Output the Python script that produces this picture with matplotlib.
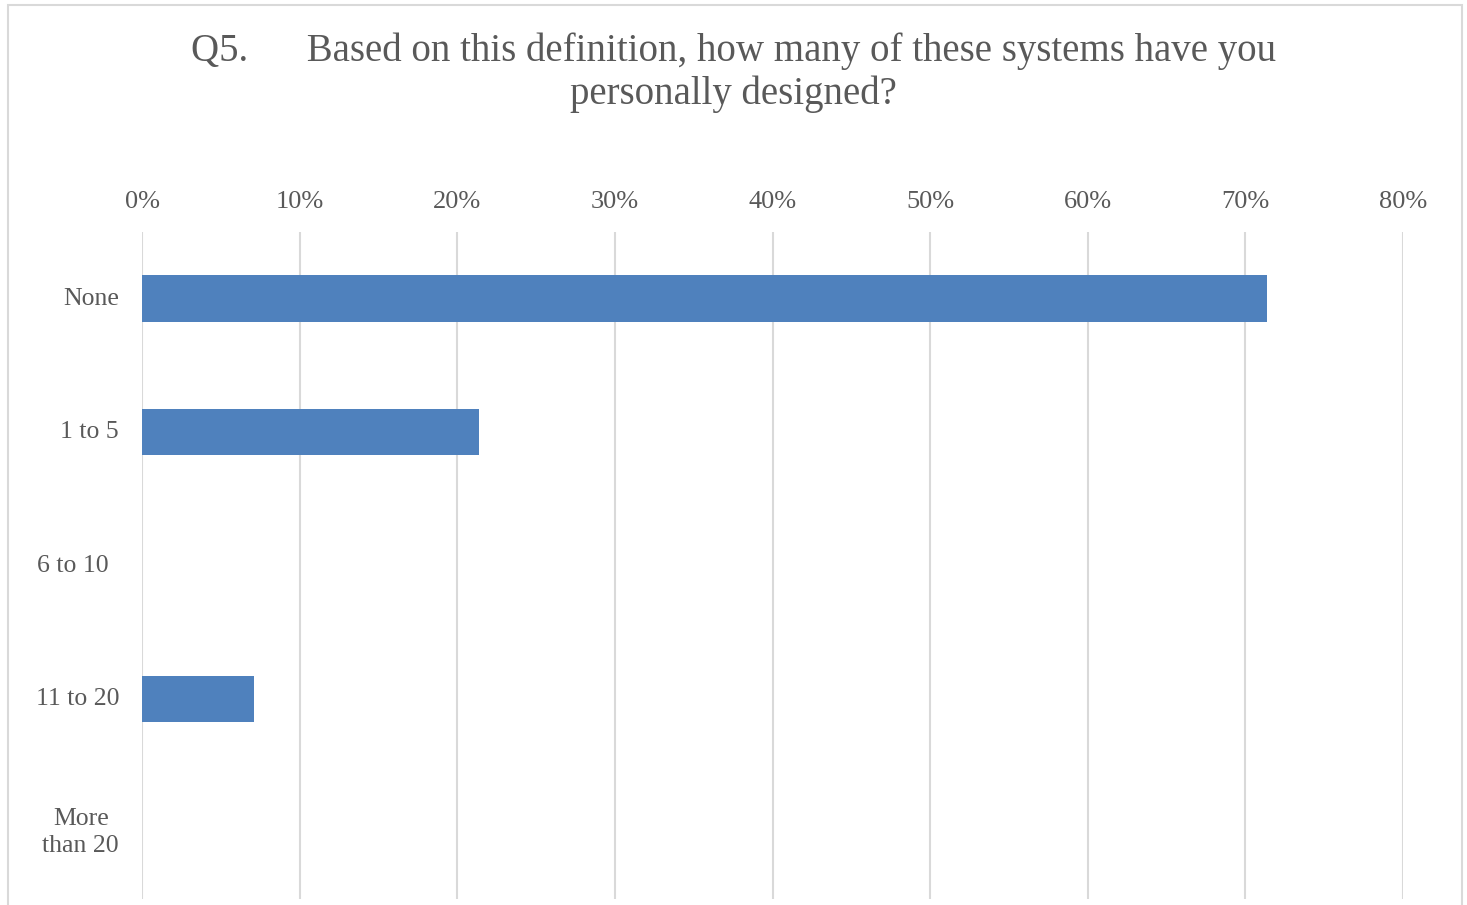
import matplotlib
matplotlib.use("Agg")
import matplotlib.pyplot as plt
from matplotlib.patches import Rectangle
import matplotlib.transforms as mtransforms

categories = ["None", "1 to 5", "6 to 10", "11 to 20", "More\nthan 20"]
values = [71.4, 21.4, 0.0, 7.1, 0.0]
xticks = [0, 10, 20, 30, 40, 50, 60, 70, 80]
xtick_labels = [f"{t}%" for t in xticks]
title = "Q5.      Based on this definition, how many of these systems have you\npersonally designed?"

FONT = "Liberation Serif"
TXT = "#595959"
GRID = "#D9D9D9"
BAR = "#4F81BD"

fig = plt.figure(figsize=(14.67, 9.05), dpi=100)
fig.patches.append(Rectangle((8/1467, -0.01), (1462-8)/1467, 1 - 5/905 + 0.01,
                             transform=fig.transFigure, fill=False,
                             edgecolor=GRID, linewidth=1.5))

ax = fig.add_axes([142/1467, 1 - 899/905, (1403-142)/1467, (899-232)/905])
y = list(range(len(categories)))
ax.barh(y, values, height=0.35, color=BAR, zorder=3)
ax.set_xlim(0, 80)
ax.set_ylim(len(categories) - 0.5, -0.5)
ax.set_xticks(xticks)
ax.set_xticklabels(xtick_labels, fontfamily=FONT, fontsize=19, color=TXT)
ax.xaxis.tick_top()
ax.tick_params(axis="x", length=0, pad=14)
ax.set_yticks([])
ax.grid(axis="x", color=GRID, linewidth=1.5, zorder=0)
for s in ax.spines.values():
    s.set_visible(False)

trans = mtransforms.blended_transform_factory(fig.transFigure, ax.transData)
label_right = [119, 119, 109, 119, 119]
for yi, lab, xr in zip(y, categories, label_right):
    if "\n" in lab:
        ax.text(xr / 1467, yi, lab, transform=trans, ha="right", va="center",
                multialignment="center", fontfamily=FONT, fontsize=18.5,
                color=TXT, linespacing=1.3)
    else:
        ax.text(xr / 1467, yi, lab, transform=trans, ha="right", va="center",
                fontfamily=FONT, fontsize=18.5, color=TXT)

fig.text(0.5, 1 - 73/905, title, ha="center", va="center", fontfamily=FONT,
         fontsize=28, color=TXT, linespacing=1.2)

fig.savefig("out.png", dpi=100, facecolor="white")
